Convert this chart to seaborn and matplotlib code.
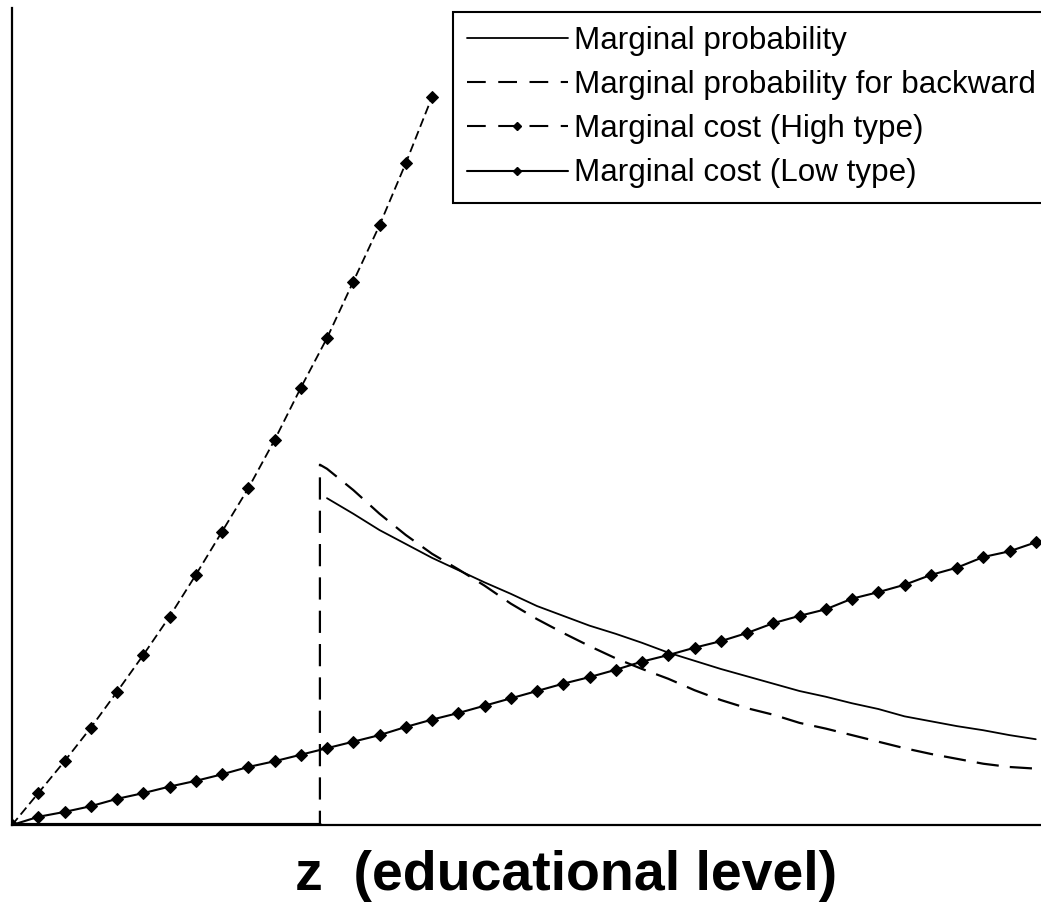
import numpy as np
import pandas as pd
import matplotlib
matplotlib.use("Agg")
import matplotlib.pyplot as plt
import seaborn as sns
from matplotlib.lines import Line2D

# ---------------- data ----------------
z_high = [0.0, 0.1, 0.2, 0.3, 0.4, 0.5, 0.6, 0.7, 0.8, 0.9, 1.0, 1.1, 1.2,
          1.3, 1.4, 1.5, 1.6]
cost_high = [0.0, 0.39, 0.78, 1.19, 1.63, 2.08, 2.55, 3.06, 3.59, 4.12, 4.71,
             5.35, 5.96, 6.65, 7.34, 8.10, 8.91]

z_low = [0.0, 0.1, 0.2, 0.3, 0.4, 0.5, 0.6, 0.7, 0.8, 0.9, 1.0, 1.1, 1.2, 1.3,
         1.4, 1.5, 1.6, 1.7, 1.8, 1.9, 2.0, 2.1, 2.2, 2.3, 2.4, 2.5, 2.6, 2.7,
         2.8, 2.9, 3.0, 3.1, 3.2, 3.3, 3.4, 3.5, 3.6, 3.7, 3.8, 3.9]
cost_low = [0.0, 0.10, 0.16, 0.23, 0.32, 0.39, 0.47, 0.54, 0.62, 0.71, 0.78,
            0.86, 0.94, 1.02, 1.10, 1.20, 1.29, 1.37, 1.46, 1.55, 1.64, 1.73,
            1.81, 1.90, 2.00, 2.08, 2.17, 2.25, 2.35, 2.47, 2.56, 2.64, 2.77,
            2.85, 2.94, 3.06, 3.15, 3.28, 3.35, 3.46]

z_jump = 1.173
z_zero = [0.0, z_jump]
prob_zero = [0.0, 0.0]
jump_top_backward = 4.41

z_prob = [1.2, 1.3, 1.4, 1.5, 1.6, 1.7, 1.8, 1.9, 2.0, 2.1, 2.2, 2.3, 2.4,
          2.5, 2.6, 2.7, 2.8, 2.9, 3.0, 3.1, 3.2, 3.3, 3.4, 3.5, 3.6, 3.7,
          3.8, 3.9]
prob = [4.00, 3.81, 3.61, 3.44, 3.27, 3.12, 2.97, 2.83, 2.68, 2.56, 2.44,
        2.34, 2.23, 2.11, 2.01, 1.91, 1.82, 1.73, 1.64, 1.57, 1.49, 1.42,
        1.33, 1.27, 1.21, 1.16, 1.10, 1.05]
prob_backward = [4.36, 4.10, 3.81, 3.55, 3.32, 3.13, 2.93, 2.71, 2.52, 2.35,
                 2.19, 2.04, 1.91, 1.79, 1.65, 1.53, 1.43, 1.35, 1.25, 1.18,
                 1.10, 1.02, 0.94, 0.87, 0.81, 0.75, 0.71, 0.69]

labels = ["Marginal probability", "Marginal probability for backward",
          "Marginal cost (High type)", "Marginal cost (Low type)"]
xlabel = "z  (educational level)"

# ---------------- figure ----------------
sns.set_style("white")
plt.rcParams["font.family"] = ["Liberation Sans", "DejaVu Sans"]

W, H = 1041, 906
fig = plt.figure(figsize=(W / 100, H / 100), dpi=100)
ax = fig.add_axes([12 / W, (H - 825) / H, 1 - 12 / W, 817 / H])

# zero part of the marginal probability (both curves overlap there)
sns.lineplot(x=z_zero, y=prob_zero, ax=ax, color="black", lw=3.0,
             estimator=None, sort=False)

sns.lineplot(x=z_prob, y=prob, ax=ax, color="black", lw=1.3,
             estimator=None, sort=False)

bx = z_zero + [z_jump] + z_prob
by = prob_zero + [jump_top_backward] + prob_backward
sns.lineplot(x=bx, y=by, ax=ax, color="black", lw=1.6,
             linestyle=(0, (10, 5)), estimator=None, sort=False)

sns.lineplot(x=z_high, y=cost_high, ax=ax, color="black", lw=1.3,
             linestyle=(0, (5, 2.5)), marker="D", markersize=6.5,
             markerfacecolor="black", markeredgecolor="black",
             estimator=None, sort=False)

sns.lineplot(x=z_low, y=cost_low, ax=ax, color="black", lw=1.5,
             marker="D", markersize=6.5, markerfacecolor="black",
             markeredgecolor="black", estimator=None, sort=False)

ax.set_xlim(0, 1029 / 262.5)
ax.set_ylim(0, 10)
ax.set_xticks([])
ax.set_yticks([])
for s in ["top", "right"]:
    ax.spines[s].set_visible(False)
for s in ["left", "bottom"]:
    ax.spines[s].set_color("black")
    ax.spines[s].set_linewidth(1.6)

ax.set_xlabel(xlabel, fontsize=40, fontweight="bold", color="black")
ax.xaxis.set_label_coords((566 - 12) / 1029, -0.030)

# legend handles drawn in the same styles as the legend in the picture
handles = [
    Line2D([], [], color="black", lw=1.3),
    Line2D([], [], color="black", lw=1.5, linestyle=(0, (9, 6))),
    Line2D([], [], color="black", lw=1.5, linestyle=(0, (9, 6)),
           marker="D", markersize=4, markerfacecolor="black"),
    Line2D([], [], color="black", lw=1.5,
           marker="D", markersize=4, markerfacecolor="black"),
]
leg = ax.legend(handles, labels, loc="upper left",
                bbox_to_anchor=(453 / W, 1 - 12 / H),
                bbox_transform=fig.transFigure,
                fontsize=22.6, frameon=True, fancybox=False, framealpha=1,
                edgecolor="black", handlelength=3.2, handletextpad=0.2,
                borderpad=0.45, labelspacing=0.45, borderaxespad=0)
leg.get_frame().set_linewidth(1.5)
for t in leg.get_texts():
    t.set_color("black")

fig.savefig("out.png", dpi=100)
